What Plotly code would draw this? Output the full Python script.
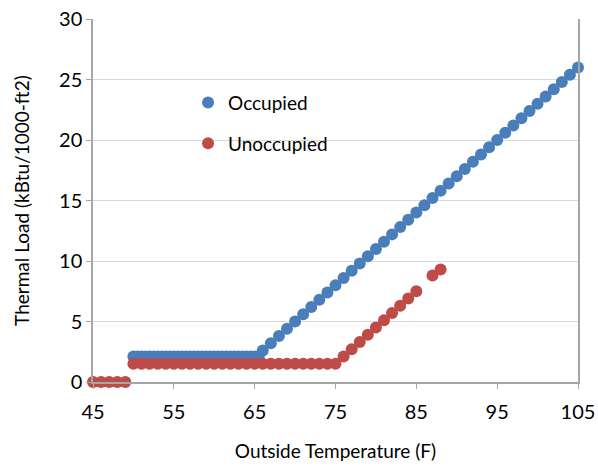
import plotly.graph_objects as go

# Occupied: flat part sampled every 0.5 F, then 1 F steps
occ_temp = [50, 50.5, 51, 51.5, 52, 52.5, 53, 53.5, 54, 54.5, 55, 55.5,
            56, 56.5, 57, 57.5, 58, 58.5, 59, 59.5, 60, 60.5, 61, 61.5,
            62, 62.5, 63, 63.5, 64, 64.5, 65, 65.5,
            66, 67, 68, 69, 70, 71, 72, 73, 74, 75, 76, 77, 78, 79, 80,
            81, 82, 83, 84, 85, 86, 87, 88, 89, 90, 91, 92, 93, 94, 95,
            96, 97, 98, 99, 100, 101, 102, 103, 104, 105]
occ_load = [2.1, 2.1, 2.1, 2.1, 2.1, 2.1, 2.1, 2.1, 2.1, 2.1, 2.1, 2.1,
            2.1, 2.1, 2.1, 2.1, 2.1, 2.1, 2.1, 2.1, 2.1, 2.1, 2.1, 2.1,
            2.1, 2.1, 2.1, 2.1, 2.1, 2.1, 2.1, 2.1,
            2.6, 3.2, 3.8, 4.4, 5.0, 5.6, 6.2, 6.8, 7.4, 8.0, 8.6, 9.2, 9.8, 10.4, 11.0,
            11.6, 12.2, 12.8, 13.4, 14.0, 14.6, 15.2, 15.8, 16.4, 17.0, 17.6, 18.2, 18.8, 19.4, 20.0,
            20.6, 21.2, 21.8, 22.4, 23.0, 23.6, 24.2, 24.8, 25.4, 26.0]

unocc_temp = [45, 46, 47, 48, 49,
              50, 51, 52, 53, 54, 55, 56, 57, 58, 59, 60, 61, 62, 63, 64,
              65, 66, 67, 68, 69, 70, 71, 72, 73, 74, 75,
              76, 77, 78, 79, 80, 81, 82, 83, 84, 85, 87, 88]
unocc_load = [0, 0, 0, 0, 0,
              1.5, 1.5, 1.5, 1.5, 1.5, 1.5, 1.5, 1.5, 1.5, 1.5, 1.5, 1.5, 1.5, 1.5, 1.5,
              1.5, 1.5, 1.5, 1.5, 1.5, 1.5, 1.5, 1.5, 1.5, 1.5, 1.5,
              2.1, 2.7, 3.3, 3.9, 4.5, 5.1, 5.7, 6.3, 6.9, 7.5, 8.8, 9.3]

x_ticks = [45, 55, 65, 75, 85, 95, 105]
y_ticks = [0, 5, 10, 15, 20, 25, 30]

font = 'Lato, "Open Sans", sans-serif'

fig = go.Figure()
fig.add_trace(go.Scatter(x=occ_temp, y=occ_load, mode='markers', name='Occupied',
                         marker=dict(color='#4A7EBB', size=12), cliponaxis=False,
                         legendgroup='a'))
fig.add_trace(go.Scatter(x=unocc_temp, y=unocc_load, mode='markers', name='Unoccupied',
                         marker=dict(color='#BE4B48', size=12), cliponaxis=False,
                         legendgroup='b'))

fig.update_xaxes(range=[45, 105], tickvals=x_ticks, showgrid=False, zeroline=False,
                 showline=True, linecolor='#A6A6A6', linewidth=1.5, automargin=False,
                 ticks='outside', ticklen=5, tickcolor='#A6A6A6', ticklabelstandoff=6,
                 tickfont=dict(size=20, color='black'),
                 title=dict(text='Outside Temperature (F)', font=dict(size=19, color='black'),
                            standoff=23))
fig.update_yaxes(range=[0, 30], tickvals=y_ticks, showgrid=True, gridcolor='#D9D9D9',
                 zeroline=False, showline=True, linecolor='#A6A6A6', linewidth=1.5,
                 mirror=True, automargin=False, ticks='outside', ticklen=5, tickcolor='#A6A6A6',
                 tickfont=dict(size=20, color='black'),
                 title=dict(text='Thermal Load (kBtu/1000-ft2)', font=dict(size=19, color='black'),
                            standoff=24))

fig.update_layout(width=598, height=468, plot_bgcolor='white', paper_bgcolor='white',
                  font=dict(family=font, color='black'),
                  margin=dict(l=93, r=20, t=19, b=86),
                  legend=dict(x=0.196, y=0.822, xanchor='left', yanchor='top',
                              bgcolor='rgba(0,0,0,0)', font=dict(size=19),
                              itemsizing='constant', tracegroupgap=13,
                              traceorder='grouped'))

# drop the default body margin so the figure sits at the window's corner
fig.write_html("out.html", config={'displayModeBar': False},
               post_script="document.body.style.margin='0';")
